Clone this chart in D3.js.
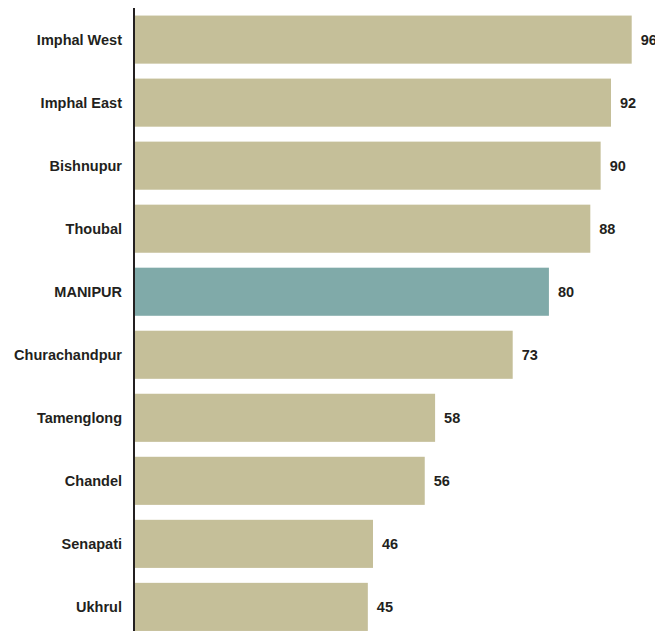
<html><head>
<script src="https://d3js.org/d3.v7.min.js"></script>
<style>
  body { margin: 0; background: #fff; }
  .lbl { font-family: "Liberation Sans", Arial, sans-serif; font-size: 14.5px; font-weight: bold; fill: #231f20; }
</style>
</head>
<body>
<svg id="chart" width="655" height="631"></svg>
<script>
const districts = ["Imphal West", "Imphal East", "Bishnupur", "Thoubal", "MANIPUR",
                   "Churachandpur", "Tamenglong", "Chandel", "Senapati", "Ukhrul"];
const values = [96, 92, 90, 88, 80, 73, 58, 56, 46, 45];
const highlight = "MANIPUR";

const svg = d3.select("#chart");
const x0 = 135;

const x = d3.scaleLinear().domain([0, 96]).range([x0, 631.7]);
const y = d3.scaleBand().domain(districts).range([8, 638.5])
            .paddingInner(0.237).paddingOuter(0.12);

const data = districts.map((d, i) => ({name: d, value: values[i]}));

svg.selectAll("rect.bar").data(data)
   .join("rect")
   .attr("class", "bar")
   .attr("x", x(0))
   .attr("y", d => y(d.name))
   .attr("width", d => x(d.value) - x(0))
   .attr("height", y.bandwidth())
   .attr("fill", d => d.name == highlight ? "#80aaa9" : "#c5bf99");

svg.selectAll("text.val").data(data)
   .join("text")
   .attr("class", "lbl val")
   .attr("x", d => x(d.value) + 9)
   .attr("y", d => y(d.name) + y.bandwidth() / 2)
   .attr("dy", "0.36em")
   .text(d => d.value);

svg.selectAll("text.name").data(data)
   .join("text")
   .attr("class", "lbl name")
   .attr("x", 122)
   .attr("text-anchor", "end")
   .attr("y", d => y(d.name) + y.bandwidth() / 2)
   .attr("dy", "0.36em")
   .text(d => d.name);

// axis line
svg.append("line")
   .attr("x1", 134).attr("x2", 134)
   .attr("y1", 8).attr("y2", 631)
   .attr("stroke", "#231f20")
   .attr("stroke-width", 2);
</script>
</body>
</html>
